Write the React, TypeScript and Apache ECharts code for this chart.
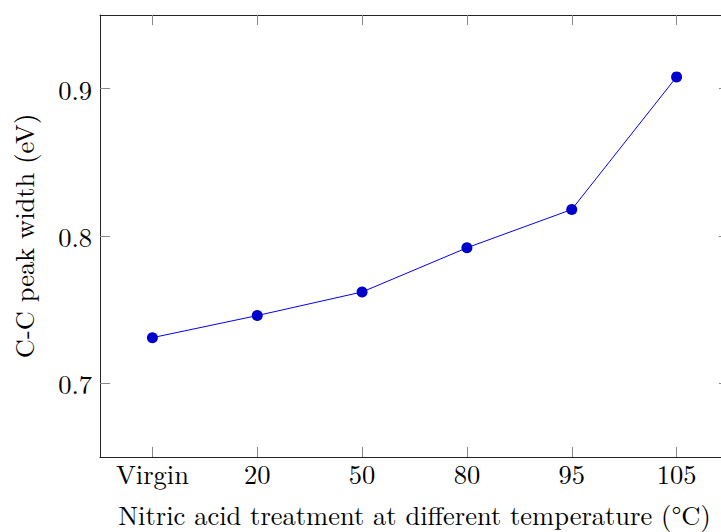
import React, { useEffect, useRef } from "react";
import * as echarts from "echarts";

const categories = ["Virgin", "20", "50", "80", "95", "105"];
const peakWidth = [0.731, 0.746, 0.762, 0.792, 0.818, 0.908];
const yTicks = [0.7, 0.8, 0.9];

const FONT = "'Latin Modern Roman', 'DejaVu Serif', serif";
const FS = 26.5;

export default function App() {
  const ref = useRef<HTMLDivElement>(null);
  useEffect(() => {
    const chart = echarts.init(ref.current!, null, { renderer: "svg" });
    const tickStyle = { show: true, inside: true, length: 10, lineStyle: { color: "#888", width: 1 } };
    const lineStyle = { show: true, lineStyle: { color: "#222", width: 1 } };
    chart.setOption({
      animation: false,
      backgroundColor: "#fff",
      grid: {
        left: 100,
        top: 15,
        right: 0,
        height: 442,
        containLabel: false,
        outerBoundsMode: "none",
      },
      xAxis: [
        {
          type: "category",
          data: categories,
          position: "bottom",
          boundaryGap: true,
          axisLine: lineStyle,
          axisTick: { ...tickStyle, alignWithLabel: true },
          axisLabel: { color: "#000", fontFamily: FONT, fontSize: FS, margin: 2 },
          name: "Nitric acid treatment at different temperature (°C)",
          nameLocation: "middle",
          nameGap: 43,
          nameTextStyle: { color: "#000", fontFamily: FONT, fontSize: FS, lineHeight: 28 },
          splitLine: { show: false },
        },
        {
          type: "category",
          data: categories,
          position: "top",
          boundaryGap: true,
          axisLine: lineStyle,
          axisTick: { ...tickStyle, alignWithLabel: true },
          axisLabel: { show: false },
          splitLine: { show: false },
        },
      ],
      yAxis: [
        {
          type: "value",
          min: 0.65,
          max: 0.95,
          position: "left",
          axisLine: lineStyle,
          axisLabel: {
            color: "#000",
            fontFamily: FONT,
            fontSize: FS,
            margin: 8,
            customValues: yTicks,
            formatter: (v: number) => v.toFixed(1),
          },
          axisTick: { ...tickStyle, customValues: yTicks },
          name: "C-C peak width (eV)",
          nameLocation: "middle",
          nameGap: 64,
          nameRotate: 90,
          nameTextStyle: { color: "#000", fontFamily: FONT, fontSize: FS },
          splitLine: { show: false },
        },
        {
          type: "value",
          min: 0.65,
          max: 0.95,
          position: "right",
          axisLine: lineStyle,
          axisTick: { ...tickStyle, customValues: yTicks },
          axisLabel: { show: false },
          splitLine: { show: false },
        },
      ],
      series: [
        {
          type: "line",
          data: peakWidth,
          xAxisIndex: 0,
          yAxisIndex: 0,
          symbol: "circle",
          symbolSize: 11,
          itemStyle: { color: "#0000CC" },
          lineStyle: { color: "#0000FF", width: 1 },
        },
      ],
    });
    return () => chart.dispose();
  }, []);
  return (
    <div style={{ position: "absolute", left: 0, top: 0, width: 721, height: 532, overflow: "hidden" }}>
      <div ref={ref} style={{ width: 729, height: 532 }} />
    </div>
  );
}
